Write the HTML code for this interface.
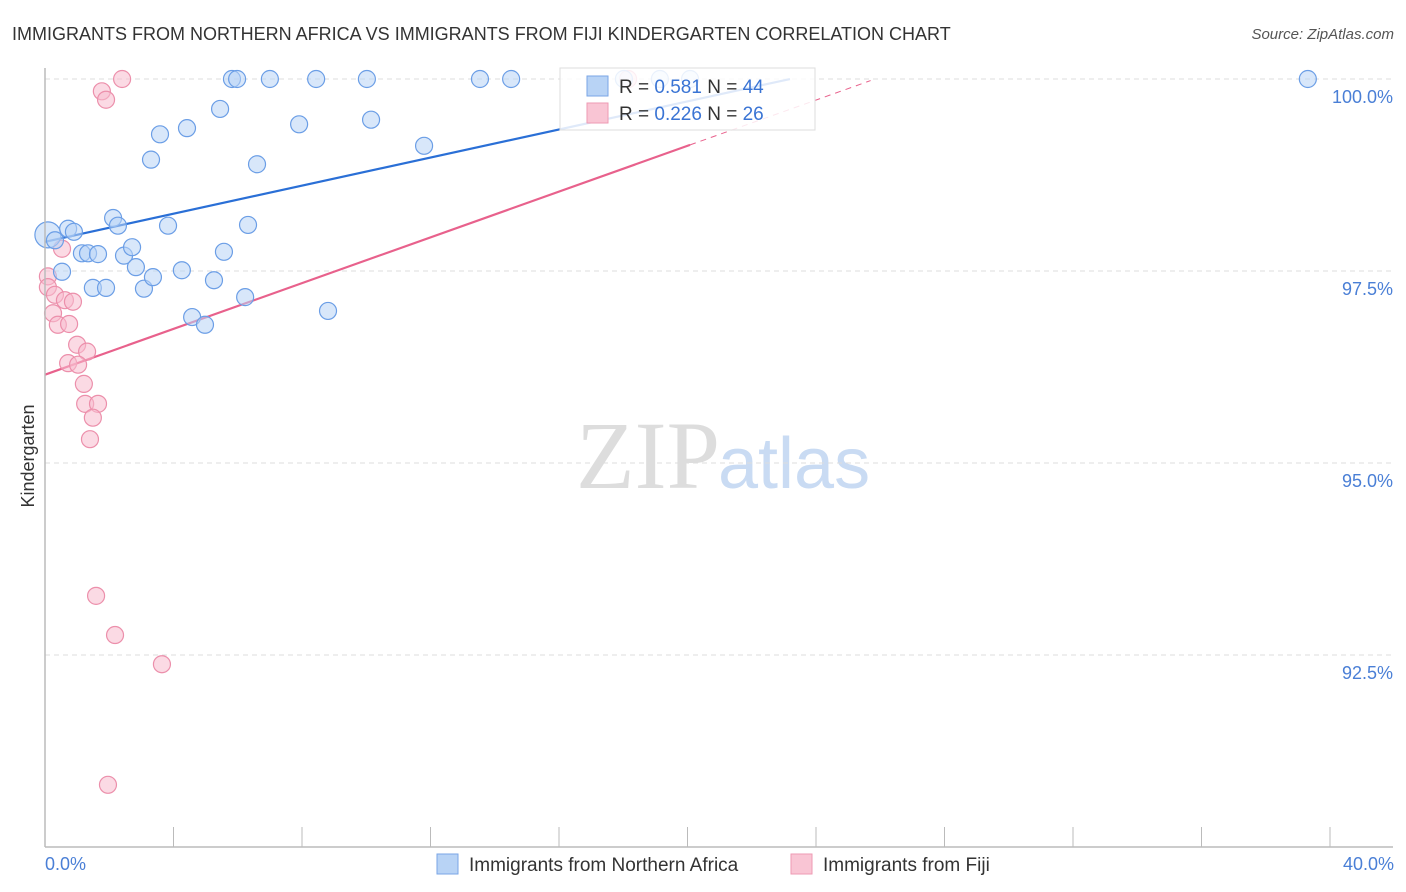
<!DOCTYPE html>
<html><head><meta charset="utf-8">
<style>
body{margin:0;background:#fff;font-family:"Liberation Sans",sans-serif;}
#c{position:absolute;left:0;top:0;}
</style></head>
<body>
<svg id="c" width="1406" height="892" xmlns="http://www.w3.org/2000/svg">
<text x="12" y="40" font-size="18" fill="#333">IMMIGRANTS FROM NORTHERN AFRICA VS IMMIGRANTS FROM FIJI KINDERGARTEN CORRELATION CHART</text>
<text x="1394" y="39" font-size="15" fill="#555" font-style="italic" text-anchor="end">Source: ZipAtlas.com</text>
<text x="720" y="488" font-size="96" fill="#ddd" text-anchor="end" font-family="Liberation Serif,serif">ZIP</text>
<text x="718" y="488" font-size="72" fill="#c9dbf3">atlas</text>
<text x="34" y="456" font-size="18" fill="#333" text-anchor="middle" transform="rotate(-90 34 456)">Kindergarten</text>
<g id="grid"></g><g id="ticks"></g><g id="lines"></g><g id="pts"></g>
<line x1="45" y1="68" x2="45" y2="847" stroke="#bbb" stroke-width="1.5"/>
<line x1="45" y1="847" x2="1393" y2="847" stroke="#bbb" stroke-width="1.5"/>
<text x="45" y="870" font-size="18" fill="#4a7fd6">0.0%</text>
<text x="1394" y="870" font-size="18" fill="#4a7fd6" text-anchor="end">40.0%</text>
<g>
<rect x="560" y="68" width="255" height="62" fill="#fff" fill-opacity="0.85" stroke="#ddd"/>
<rect x="587" y="76" width="21" height="20" fill="#b8d3f5" stroke="#7aa6e6"/>
<rect x="587" y="103" width="21" height="20" fill="#f9c5d4" stroke="#ee9ab3"/>
<text x="619" y="93" font-size="19" fill="#333">R = <tspan fill="#3a74d4">0.581</tspan>   N = <tspan fill="#3a74d4">44</tspan></text>
<text x="619" y="120" font-size="19" fill="#333">R = <tspan fill="#3a74d4">0.226</tspan>   N = <tspan fill="#3a74d4">26</tspan></text>
</g>
<rect x="437" y="854" width="21" height="20" fill="#b8d3f5" stroke="#7aa6e6"/>
<text x="469" y="871" font-size="19" fill="#333">Immigrants from Northern Africa</text>
<rect x="791" y="854" width="21" height="20" fill="#f9c5d4" stroke="#ee9ab3"/>
<text x="823" y="871" font-size="19" fill="#333">Immigrants from Fiji</text>
</svg>
<script>
const yTicks=[100,97.5,95,92.5];
const yTickLabels=["100.0%","97.5%","95.0%","92.5%"];
const xTicks=[0,4,8,12,16,20,24,28,32,36,40];
const blueX=[0.09,0.31,0.53,0.72,0.90,1.15,1.34,1.65,1.49,1.90,2.12,2.27,2.46,2.71,2.83,3.08,3.36,3.30,3.58,3.83,4.26,4.42,4.58,4.98,5.26,5.45,5.57,5.82,5.98,6.23,6.32,6.60,7.00,7.91,8.44,8.81,10.02,10.15,11.80,13.54,14.51,18.02,19.14,20.08,39.31];
const blueY=[97.97,97.90,97.49,98.05,98.01,97.73,97.73,97.72,97.28,97.28,98.19,98.09,97.70,97.81,97.55,97.27,97.42,98.95,99.28,98.09,97.51,99.36,96.90,96.80,97.38,99.61,97.75,100,100,97.16,98.10,98.89,100,99.41,100,96.98,100,99.47,99.13,100,100,100,100,100,100];
const pinkX=[2.40,1.77,1.90,0.09,0.09,0.53,0.31,0.62,0.87,0.25,0.40,0.75,1.00,1.31,0.72,1.03,1.21,1.25,1.65,1.49,1.40,1.59,2.18,3.64,1.96,18.15];
const pinkY=[100,99.84,99.73,97.43,97.29,97.79,97.19,97.12,97.10,96.95,96.80,96.81,96.54,96.45,96.30,96.28,96.03,95.77,95.77,95.59,95.31,93.27,92.76,92.38,90.81,100];
const blueTrend=[97.88,0.0914];
const pinkTrend=[96.15,0.149];
const X=v=>45+v/40*1285;
const Y=v=>79+(100-v)/10*768;
const NS="http://www.w3.org/2000/svg";
function mk(t,a,p){const e=document.createElementNS(NS,t);for(const k in a)e.setAttribute(k,a[k]);document.getElementById(p).appendChild(e);return e;}
yTicks.forEach((t,i)=>{
 const l=mk('line',{x1:45,x2:1393,y1:Y(t),y2:Y(t),stroke:'#ddd','stroke-dasharray':'5,4'},'grid');
 
 
 const tx=mk('text',{x:1393,y:Y(t)+24,'font-size':18,fill:'#4a7fd6','text-anchor':'end'},'grid');
 tx.textContent=yTickLabels[i];
 
 
});
xTicks.forEach(t=>{
 const l=mk('line',{x1:X(t),x2:X(t),y1:827,y2:847,stroke:'#bbb'},'ticks');
 
 
});
function trend(tr,x0,x1,x2,col,nm){
 const a=mk('line',{x1:X(x0),y1:Y(tr[0]+tr[1]*x0),x2:X(x1),y2:Y(tr[0]+tr[1]*x1),stroke:col,'stroke-width':2.2},'lines');
 
 
 if(x2){const b=mk('line',{x1:X(x1),y1:Y(tr[0]+tr[1]*x1),x2:X(x2),y2:Y(tr[0]+tr[1]*x2),stroke:col,'stroke-width':1,'stroke-dasharray':'6,5'},'lines');
 
 }
}
function pts(xs,ys,fill,stroke,nm){
 xs.forEach((x,i)=>{const c=mk('circle',{cx:X(x),cy:Y(ys[i]),r:(i==0&&nm=='blue-point')?13:8.5,fill:fill,'fill-opacity':0.55,stroke:stroke,'stroke-width':1.2},'pts');
 
 });
}
pts(pinkX,pinkY,'#f7bccd','#ec8fab','pink-point');
pts(blueX,blueY,'#b8d3f5','#6b9ee6','blue-point');
trend(pinkTrend,0,20.08,25.7,'#e8618c','pink-trend-line');
trend(blueTrend,0,23.19,null,'#2a6fd6','blue-trend-line');
</script>
</body></html>
